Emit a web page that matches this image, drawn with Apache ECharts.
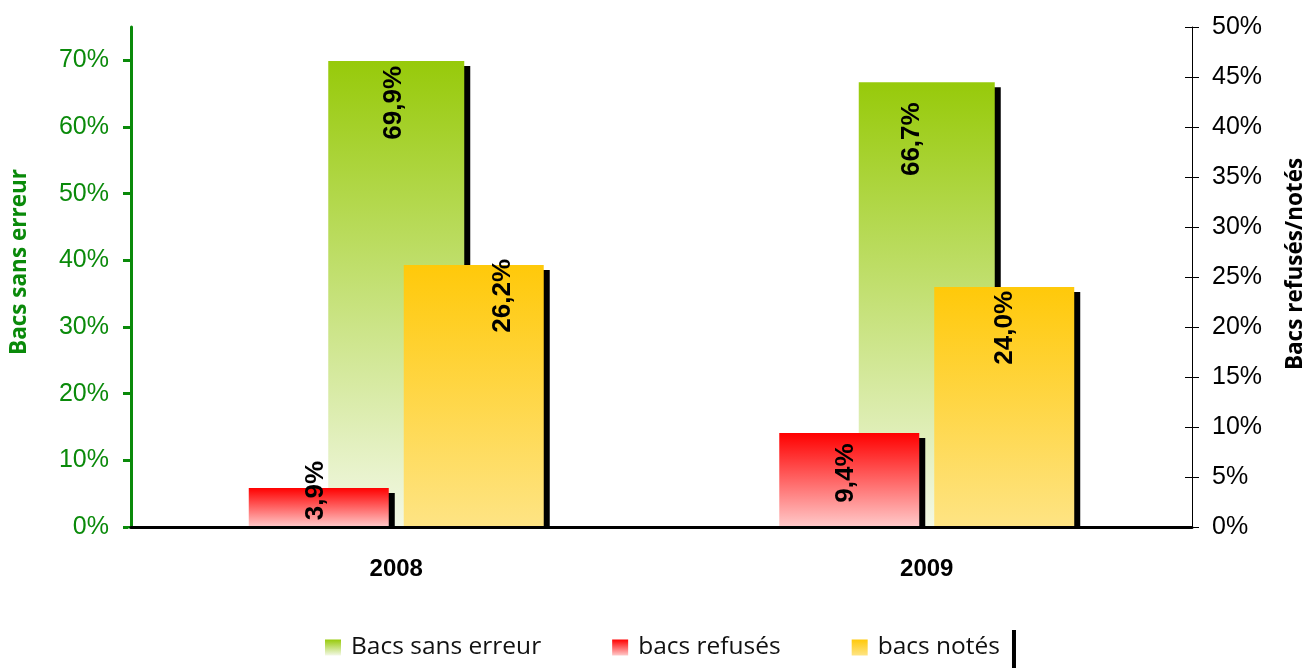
<!DOCTYPE html>
<html>
<head>
<meta charset="utf-8">
<script src="https://cdn.jsdelivr.net/npm/echarts@6/dist/echarts.min.js"></script>
<style>
  html, body { margin: 0; padding: 0; background: #fff; }
  #chart { width: 1306px; height: 668px; }
</style>
</head>
<body>
<div id="chart"></div>
<script>
// données
const years = ['2008', '2009']
const seriesNames = ['Bacs sans erreur', 'bacs refusés', 'bacs notés']
const sansErreur = [0.699, 0.667]
const refuses = [0.039, 0.094]
const notes = [0.262, 0.240]
const leftTicks = [0, 0.1, 0.2, 0.3, 0.4, 0.5, 0.6, 0.7]

const green = '#0A8A0A'

function grad(top, bottom) {
  return new echarts.graphic.LinearGradient(0, 0, 0, 1, [
    {offset: 0, color: top},
    {offset: 1, color: bottom}
  ])
}

function pct(v) {
  return (v * 100).toFixed(1).replace('.', ',') + '%'
}

// petits décalages des étiquettes (écran: [dx, dy]), comme dans Excel
// l'étiquette est tournée de 90°, donc offset local = [-dy, dx]
function withLabels(values, shifts) {
  return values.map((v, i) => ({
    value: v,
    label: {offset: [-shifts[i][1], shifts[i][0]]}
  }))
}

const barShadow = {
  shadowColor: '#000',
  shadowBlur: 0,
  shadowOffsetX: 6,
  shadowOffsetY: 5
}

const barLabel = {
  show: true,
  rotate: 90,
  formatter: p => pct(p.value),
  color: '#000',
  fontFamily: 'Liberation Sans',
  fontWeight: 'bold',
  fontSize: 26
}

const chart = echarts.init(document.getElementById('chart'))

chart.setOption({
  animation: false,
  grid: {
    left: 131,
    right: 114,
    top: 27,
    bottom: 141,
    containLabel: false,
    outerBoundsMode: 'none'
  },
  legend: {
    data: seriesNames,
    left: 313,
    top: 626,
    padding: [9, 12, 40, 12],
    itemGap: 71,
    itemWidth: 16,
    itemHeight: 16,
    icon: 'rect',
    backgroundColor: '#fff',
    shadowColor: '#000',
    shadowBlur: 0,
    shadowOffsetX: 4,
    shadowOffsetY: 4,
    itemStyle: {
      shadowColor: 'transparent',
      shadowOffsetX: 0,
      shadowOffsetY: 0
    },
    textStyle: {
      fontFamily: 'Open Sans',
      fontSize: 24.5,
      color: '#111',
      padding: [0, 0, 0, 5]
    }
  },
  xAxis: [
    {
      type: 'category',
      data: years,
      position: 'bottom',
      z: 5,
      axisLine: {lineStyle: {color: '#000', width: 3}},
      axisTick: {length: 8, lineStyle: {color: '#000', width: 3}},
      axisLabel: {
        margin: 30,
        color: '#000',
        fontFamily: 'Liberation Sans',
        fontWeight: 'bold',
        fontSize: 24
      }
    },
    {
      type: 'category',
      data: years,
      position: 'bottom',
      show: false
    }
  ],
  yAxis: [
    {
      type: 'value',
      position: 'left',
      min: 0,
      max: 0.75,
      interval: 0.05,
      name: 'Bacs sans erreur',
      nameLocation: 'middle',
      nameGap: 100,
      nameTextStyle: {
        color: green,
        fontFamily: 'Open Sans',
        fontWeight: 'bold',
        fontSize: 22.5,
        padding: [0, 0, 0, 30]
      },
      splitLine: {show: false},
      axisLine: {show: true, lineStyle: {color: green, width: 3}},
      axisTick: {
        show: true,
        length: 8,
        customValues: leftTicks,
        lineStyle: {color: green, width: 3}
      },
      axisLabel: {
        customValues: leftTicks,
        margin: 22,
        color: green,
        fontFamily: 'Liberation Sans',
        fontSize: 25,
        formatter: v => Math.round(v * 100) + '%'
      }
    },
    {
      type: 'value',
      position: 'right',
      min: 0,
      max: 0.5,
      interval: 0.05,
      name: 'Bacs refusés/notés',
      nameLocation: 'middle',
      nameGap: 92,
      nameTextStyle: {
        color: '#000',
        fontFamily: 'Open Sans',
        fontWeight: 'bold',
        fontSize: 22.5,
        padding: [0, 0, 0, 26]
      },
      splitLine: {show: false},
      axisLine: {show: true, lineStyle: {color: '#000', width: 1}},
      axisTick: {show: true, length: 7, lineStyle: {color: '#000', width: 1}},
      axisLabel: {
        margin: 20,
        color: '#000',
        fontFamily: 'Liberation Sans',
        fontSize: 25,
        formatter: v => Math.round(v * 100) + '%'
      }
    },
    {
      // moitié intérieure des graduations de droite
      type: 'value',
      position: 'right',
      min: 0,
      max: 0.5,
      interval: 0.05,
      splitLine: {show: false},
      axisLine: {show: false},
      axisLabel: {show: false},
      axisTick: {show: true, inside: true, length: 7, lineStyle: {color: '#000', width: 1}}
    }
  ],
  graphic: [
    {
      // cache l'ombre des barres sous l'axe
      type: 'rect',
      z: 4,
      shape: {x: 128, y: 528.5, width: 1075, height: 6},
      style: {fill: '#fff'}
    }
  ],
  series: [
    {
      name: seriesNames[0],
      type: 'bar',
      xAxisIndex: 1,
      yAxisIndex: 0,
      barWidth: 136,
      data: withLabels(sansErreur, [[-2, 0], [-15, 15]]),
      itemStyle: Object.assign({color: grad('#97CA0A', '#F3F8E6')}, barShadow),
      label: Object.assign({}, barLabel, {
        position: 'insideTop',
        distance: 5,
        align: 'right',
        verticalAlign: 'middle'
      })
    },
    {
      name: seriesNames[1],
      type: 'bar',
      xAxisIndex: 0,
      yAxisIndex: 1,
      barWidth: 140,
      barGap: '10.7%',
      data: withLabels(refuses, [[-3, -17], [-3, -7]]),
      itemStyle: Object.assign({color: grad('#FF0000', '#FFCACA')}, barShadow),
      label: Object.assign({}, barLabel, {
        position: 'inside',
        align: 'center',
        verticalAlign: 'middle'
      })
    },
    {
      name: seriesNames[2],
      type: 'bar',
      xAxisIndex: 0,
      yAxisIndex: 1,
      barWidth: 140,
      barGap: '10.7%',
      data: withLabels(notes, [[29, -10], [1, 0]]),
      itemStyle: Object.assign({color: grad('#FFC90A', '#FEE484')}, barShadow),
      label: Object.assign({}, barLabel, {
        position: 'insideTop',
        distance: 4,
        align: 'right',
        verticalAlign: 'middle'
      })
    }
  ]
})
</script>
</body>
</html>
